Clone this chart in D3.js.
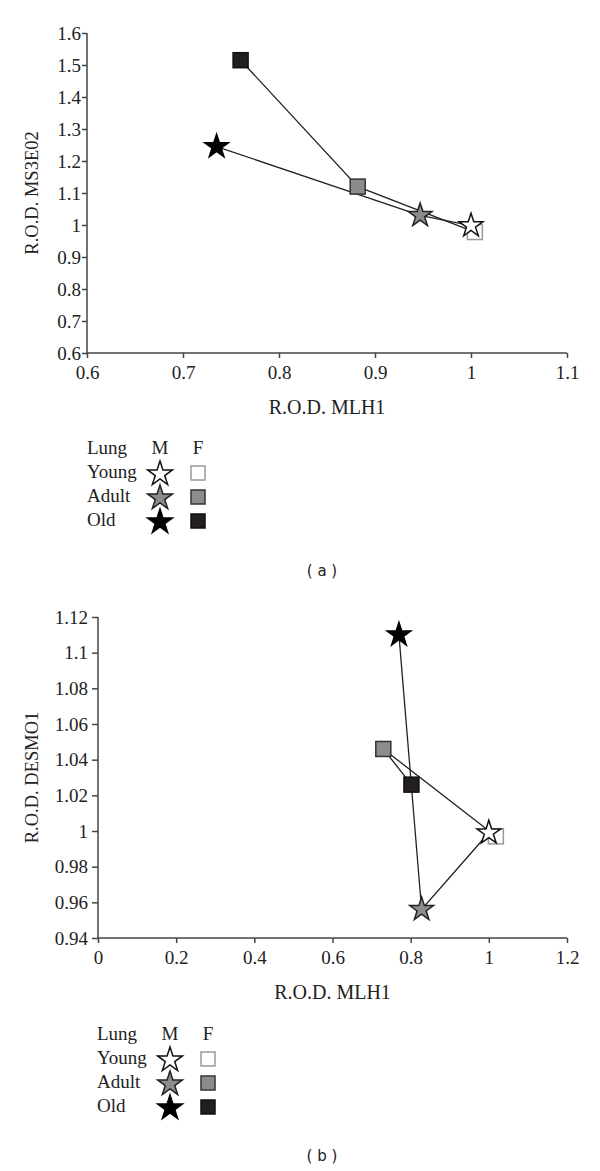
<!DOCTYPE html>
<html>
<head>
<meta charset="utf-8">
<title>R.O.D. scatter</title>
<script src="https://d3js.org/d3.v7.min.js"></script>
<style>
  body { margin: 0; background: #fff; }
  text { font-family: "Liberation Serif", "DejaVu Serif", serif; fill: #222; }
  .tag { font-family: "DejaVu Sans", "Liberation Sans", sans-serif; font-size: 15px; }
  .axis path, .axis line { stroke: #444; stroke-width: 1.5; }
</style>
</head>
<body>
<div id="chart"></div>
<script>
// groups (order of the connecting lines: Young -> Adult -> Old)
var groups = ["Young", "Adult", "Old"];

// panel (a): MLH1 vs MS3E02
var a_maleX   = [1.000, 0.947, 0.735];
var a_maleY   = [0.998, 1.030, 1.245];
var a_femaleX = [1.004, 0.882, 0.760];
var a_femaleY = [0.978, 1.120, 1.515];
var a_xTicks = [0.6, 0.7, 0.8, 0.9, 1, 1.1];
var a_yTicks = [0.6, 0.7, 0.8, 0.9, 1, 1.1, 1.2, 1.3, 1.4, 1.5, 1.6];

// panel (b): MLH1 vs DESMO1
var b_maleX   = [1.000, 0.828, 0.770];
var b_maleY   = [0.999, 0.956, 1.110];
var b_femaleX = [1.018, 0.730, 0.802];
var b_femaleY = [0.997, 1.046, 1.026];
var b_xTicks = [0, 0.2, 0.4, 0.6, 0.8, 1, 1.2];
var b_yTicks = [0.94, 0.96, 0.98, 1, 1.02, 1.04, 1.06, 1.08, 1.1, 1.12];

var starFill   = {Young: "#fff", Adult: "#8c8c8c", Old: "#000"};
var starStroke = {Young: "#111", Adult: "#222", Old: "#000"};
var sqFill     = {Young: "#fff", Adult: "#8c8c8c", Old: "#231f20"};
var sqStroke   = {Young: "#999", Adult: "#333", Old: "#111"};

var width = 600, height = 1171;
var svg = d3.select("#chart").append("svg")
  .attr("width", width).attr("height", height);

var serif = '"Liberation Serif", "DejaVu Serif", serif';

function drawPanel(cfg) {
  var x = d3.scaleLinear().domain(d3.extent(cfg.xTicks)).range([cfg.left, cfg.right]);
  var y = d3.scaleLinear().domain(d3.extent(cfg.yTicks)).range([cfg.bottom, cfg.top]);
  var g = svg.append("g");

  var xa = g.append("g").attr("class", "axis")
    .attr("transform", "translate(0," + cfg.bottom + ")")
    .call(d3.axisBottom(x).tickValues(cfg.xTicks).tickSize(5).tickSizeOuter(5)
      .tickPadding(8).tickFormat(d3.format("~g")));
  var ya = g.append("g").attr("class", "axis")
    .attr("transform", "translate(" + cfg.left + ",0)")
    .call(d3.axisLeft(y).tickValues(cfg.yTicks).tickSize(cfg.ytick).tickSizeOuter(cfg.ytick)
      .tickPadding(cfg.ypad).tickFormat(d3.format("~g")));
  xa.select(".domain").attr("d", "M" + cfg.left + ",0H" + cfg.right);
  ya.select(".domain").attr("d", "M0," + cfg.bottom + "V" + cfg.top);
  [xa, ya].forEach(function(a) {
    a.selectAll(".tick text")
      .style("font-family", serif).style("font-size", "19px").style("fill", "#222");
  });

  g.append("text").attr("x", (cfg.left + cfg.right) / 2).attr("y", cfg.bottom + 61)
    .attr("text-anchor", "middle").style("font-size", "20px").text(cfg.xTitle);
  g.append("text")
    .attr("transform", "translate(" + cfg.ytx + "," + (cfg.top + cfg.bottom) / 2 + ") rotate(-90)")
    .attr("text-anchor", "middle").style("font-size", "18.5px").text(cfg.yTitle);

  var line = d3.line().x(function(d) { return x(d[0]); }).y(function(d) { return y(d[1]); });
  var male = d3.zip(cfg.maleX, cfg.maleY);
  var female = d3.zip(cfg.femaleX, cfg.femaleY);
  [male, female].forEach(function(pts) {
    g.append("path").attr("d", line(pts)).attr("fill", "none")
      .attr("stroke", "#222").attr("stroke-width", 1.3);
  });

  var star = d3.symbol().type(d3.symbolStar).size(175);
  var s = 15;
  g.selectAll(".sq").data(female).enter().append("rect")
    .attr("x", function(d) { return x(d[0]) - s / 2; })
    .attr("y", function(d) { return y(d[1]) - s / 2; })
    .attr("width", s).attr("height", s)
    .attr("fill", function(d, i) { return sqFill[groups[i]]; })
    .attr("stroke", function(d, i) { return sqStroke[groups[i]]; })
    .attr("stroke-width", 1.5);
  g.selectAll(".st").data(male).enter().append("path")
    .attr("d", star)
    .attr("transform", function(d) { return "translate(" + x(d[0]) + "," + y(d[1]) + ")"; })
    .attr("fill", function(d, i) { return starFill[groups[i]]; })
    .attr("stroke", function(d, i) { return starStroke[groups[i]]; })
    .attr("stroke-width", 1.5);

  // legend
  var lg = svg.append("g").attr("transform", "translate(" + cfg.legX + "," + cfg.legY + ")");
  lg.append("text").attr("x", 0).attr("y", 0).style("font-size", "19px").text("Lung");
  lg.append("text").attr("x", 73).attr("y", 0).attr("text-anchor", "middle").style("font-size", "19px").text("M");
  lg.append("text").attr("x", 111).attr("y", 0).attr("text-anchor", "middle").style("font-size", "19px").text("F");
  var lstar = d3.symbol().type(d3.symbolStar).size(190);
  groups.forEach(function(gr, i) {
    var yy = 24 * (i + 1);
    lg.append("text").attr("x", 0).attr("y", yy).style("font-size", "19px").text(gr);
    lg.append("path").attr("d", lstar)
      .attr("transform", "translate(73," + (yy - 4) + ")")
      .attr("fill", starFill[gr]).attr("stroke", starStroke[gr]).attr("stroke-width", 1.5);
    lg.append("rect").attr("x", 111 - 7).attr("y", yy - 12).attr("width", 14).attr("height", 14)
      .attr("fill", sqFill[gr]).attr("stroke", sqStroke[gr]).attr("stroke-width", 1.5);
  });

  svg.append("text").attr("class", "tag").attr("x", cfg.tagX).attr("y", cfg.tagY)
    .attr("text-anchor", "middle").text(cfg.tag);
}

drawPanel({
  xTicks: a_xTicks, yTicks: a_yTicks,
  maleX: a_maleX, maleY: a_maleY, femaleX: a_femaleX, femaleY: a_femaleY,
  left: 87, right: 567, top: 33, bottom: 353, ytick: 5, ypad: 1, ytx: 38,
  xTitle: "R.O.D. MLH1", yTitle: "R.O.D. MS3E02",
  legX: 87, legY: 454, tag: "( a )", tagX: 322, tagY: 576
});

drawPanel({
  xTicks: b_xTicks, yTicks: b_yTicks,
  maleX: b_maleX, maleY: b_maleY, femaleX: b_femaleX, femaleY: b_femaleY,
  left: 98, right: 567, top: 617, bottom: 938, ytick: 6, ypad: 4, ytx: 38,
  xTitle: "R.O.D. MLH1", yTitle: "R.O.D. DESMO1",
  legX: 97, legY: 1040, tag: "( b )", tagX: 322, tagY: 1161
});
</script>
</body>
</html>
